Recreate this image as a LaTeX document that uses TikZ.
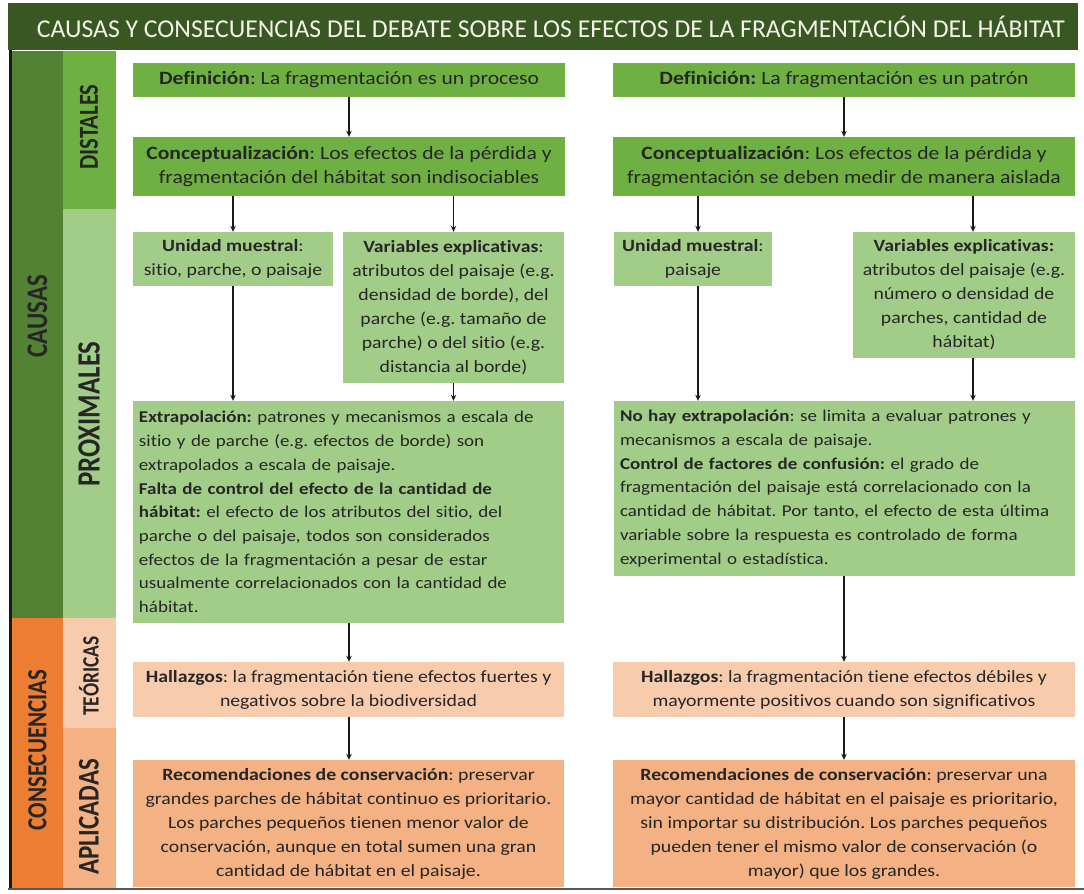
\documentclass[tikz,border=0pt]{standalone}
\usepackage{fontspec}
\setmainfont[Ligatures=NoCommon, FakeStretch=1.15]{Carlito}
\newfontfamily\titlefont[Ligatures=NoCommon]{Carlito}
\newfontfamily\labfont[Ligatures=NoCommon, FakeStretch=0.83]{Carlito}
\usetikzlibrary{arrows.meta,calc}
\definecolor{titlec}{HTML}{385723}
\definecolor{causc}{HTML}{548235}
\definecolor{distc}{HTML}{6FB043}
\definecolor{proxc}{HTML}{A2CD88}
\definecolor{consc}{HTML}{ED7D31}
\definecolor{teoc}{HTML}{F8CBAD}
\definecolor{aplc}{HTML}{F4B183}
\definecolor{txt}{HTML}{262626}
\definecolor{arrc}{HTML}{1A1A1A}
\definecolor{titletxt}{HTML}{F2F2E6}
\tikzset{
  bx/.style={inner sep=0pt, text=txt, font=\fontsize{#1}{24bp}\selectfont\frenchspacing, align=center},
  bx/.default=17.2bp,
  bxl/.style={inner sep=0pt, text=txt, font=\fontsize{16.5bp}{23.7bp}\selectfont\frenchspacing, align=left},
  arr/.style={draw=arrc, line width=1.6bp, -{Stealth[length=6bp,width=5.5bp]}},
  lab/.style={rotate=90, inner sep=0pt, text=txt, font=\labfont\fontsize{#1}{#1}\selectfont\bfseries},
}
\begin{document}
\begin{tikzpicture}[x=1bp,y=-1bp]
\fill[white] (0,0) rectangle (1084,894);
\useasboundingbox (0,0) rectangle (1084,894);

% title bar
\node[fill=titlec, minimum width=1070bp, minimum height=47bp, inner sep=0pt] (title) at (543,26.5) {};
\node[text=titletxt, inner sep=0pt, font=\titlefont\fontsize{25.7bp}{28bp}\selectfont] (titletext) at (551,27)
  {CAUSAS Y CONSECUENCIAS DEL DEBATE SOBRE LOS EFECTOS DE LA FRAGMENTACIÓN DEL HÁBITAT};

% side columns (fills overlap slightly to avoid seams)
\node[fill=causc, minimum width=52bp, minimum height=567bp, inner sep=0pt] (causas) at (37.5,335) {};
\node[fill=consc, minimum width=52bp, minimum height=271bp, inner sep=0pt] (consec) at (37.5,753) {};
\node[fill=distc, minimum width=53bp, minimum height=159bp, inner sep=0pt] (dist) at (89,131) {};
\node[fill=proxc, minimum width=53bp, minimum height=409bp, inner sep=0pt] (prox) at (89,414) {};
\node[fill=teoc, minimum width=53bp, minimum height=111bp, inner sep=0pt] (teor) at (89,673) {};
\node[fill=aplc, minimum width=53bp, minimum height=161bp, inner sep=0pt] (apl) at (89,808) {};
\node[lab=30bp] (causastxt) at (37.5,316) {CAUSAS};
\node[lab=27.6bp] (consectxt) at (37.5,750) {CONSECUENCIAS};
\node[lab=27.4bp] (disttxt) at (89,127) {DISTALES};
\node[lab=32.4bp] (proxtxt) at (89,414) {PROXIMALES};
\node[lab=23.4bp] (teortxt) at (89,676) {TEÓRICAS};
\node[lab=30bp] (apltxt) at (89,817) {APLICADAS};

\draw[line width=3bp, color=arrc] (10,50) -- (10,890);
\draw[line width=2.5bp, color=black!65] (8,889) -- (1084,889);

% left column boxes
\node[bx=18.8bp, fill=distc, minimum width=432bp, minimum height=34bp] (def1) at (349,80)
  {\textbf{Definición}: La fragmentación es un proceso};
\node[bx=18.8bp, fill=distc, minimum width=432bp, minimum height=59bp] (con1) at (349,166.5)
  {\textbf{Conceptualización}: Los efectos de la pérdida y\\fragmentación del hábitat son indisociables};
\node[bx, fill=proxc, minimum width=200bp, minimum height=54bp] (uni1) at (233,259)
  {\textbf{Unidad muestral}:\\sitio, parche, o paisaje};
\node[bx, fill=proxc, minimum width=221bp, minimum height=151bp] (var1) at (453.5,307.5)
  {\textbf{Variables explicativas}:\\atributos del paisaje (e.g.\\densidad de borde), del\\parche (e.g. tamaño de\\parche) o del sitio (e.g.\\distancia al borde)};
\node[bxl, fill=proxc, text width=419bp, minimum width=431bp, minimum height=222bp] (ext1) at (348.5,512)
  {\textbf{Extrapolación:} patrones y mecanismos a escala de\\
   sitio y de parche (e.g. efectos de borde) son\\
   extrapolados a escala de paisaje.\\
   \textbf{Falta de control del efecto de la cantidad de}\\
   \textbf{hábitat:} el efecto de los atributos del sitio, del\\
   parche o del paisaje, todos son considerados\\
   efectos de la fragmentación a pesar de estar\\
   usualmente correlacionados con la cantidad de\\
   hábitat.};
\node[bx, fill=teoc, minimum width=431bp, minimum height=55bp] (hal1) at (348.5,689.5)
  {\textbf{Hallazgos}: la fragmentación tiene efectos fuertes y\\negativos sobre la biodiversidad};
\node[bx, fill=aplc, minimum width=431bp, minimum height=127bp] (rec1) at (348.5,823.5)
  {\textbf{Recomendaciones de conservación}: preservar\\
   grandes parches de hábitat continuo es prioritario.\\
   Los parches pequeños tienen menor valor de\\
   conservación, aunque en total sumen una gran\\
   cantidad de hábitat en el paisaje.};

% right column boxes
\node[bx=18.8bp, fill=distc, minimum width=462bp, minimum height=34bp] (def2) at (844,80)
  {\textbf{Definición:} La fragmentación es un patrón};
\node[bx=18.8bp, fill=distc, minimum width=462bp, minimum height=59bp] (con2) at (844,166.5)
  {\textbf{Conceptualización}: Los efectos de la pérdida y\\fragmentación se deben medir de manera aislada};
\node[bx, fill=proxc, minimum width=158bp, minimum height=54bp] (uni2) at (693,259)
  {\textbf{Unidad muestral}:\\paisaje};
\node[bx, fill=proxc, minimum width=222bp, minimum height=126bp] (var2) at (964,295)
  {\textbf{Variables explicativas:}\\atributos del paisaje (e.g.\\número o densidad de\\parches, cantidad de\\hábitat)};
\node[bxl, fill=proxc, text width=449bp, minimum width=461bp, minimum height=175bp] (ext2) at (844.5,488.5)
  {\textbf{No hay extrapolación}: se limita a evaluar patrones y\\
   mecanismos a escala de paisaje.\\
   \textbf{Control de factores de confusión:} el grado de\\
   fragmentación del paisaje está correlacionado con la\\
   cantidad de hábitat. Por tanto, el efecto de esta última\\
   variable sobre la respuesta es controlado de forma\\
   experimental o estadística.};
\node[bx, fill=teoc, minimum width=462bp, minimum height=55bp] (hal2) at (844,689.5)
  {\textbf{Hallazgos}: la fragmentación tiene efectos débiles y\\mayormente positivos cuando son significativos};
\node[bx, fill=aplc, minimum width=462bp, minimum height=127bp] (rec2) at (844,823.5)
  {\textbf{Recomendaciones de conservación}: preservar una\\
   mayor cantidad de hábitat en el paisaje es prioritario,\\
   sin importar su distribución. Los parches pequeños\\
   pueden tener el mismo valor de conservación (o\\
   mayor) que los grandes.};

% helper x positions
\coordinate (xu2) at (698,0);
\coordinate (xv2) at (973,0);

% arrows left
\draw[arr] (def1) -- (con1);
\draw[arr] (con1.south -| uni1.north) -- (uni1.north);
\draw[arr] (con1.south -| var1.north) -- (var1.north);
\draw[arr] (uni1.south) -- (uni1.south |- ext1.north);
\draw[arr] (var1.south) -- (var1.south |- ext1.north);
\draw[arr] (ext1.south -| con1.south) -- (hal1.north -| con1.south);
\draw[arr] (hal1.south -| con1.south) -- (rec1.north -| con1.south);

% arrows right
\draw[arr] (def2) -- (con2);
\draw[arr] (con2.south -| xu2) -- (uni2.north -| xu2);
\draw[arr] (con2.south -| xv2) -- (var2.north -| xv2);
\draw[arr] (uni2.south -| xu2) -- (ext2.north -| xu2);
\draw[arr] (var2.south -| xv2) -- (ext2.north -| xv2);
\draw[arr] (ext2.south -| con2.south) -- (hal2.north -| con2.south);
\draw[arr] (hal2.south) -- (rec2.north);
\end{tikzpicture}
\end{document}
